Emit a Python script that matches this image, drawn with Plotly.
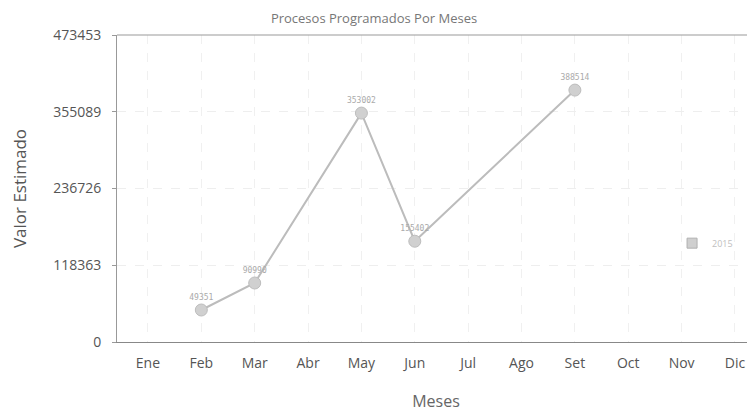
import plotly.graph_objects as go

meses = ["Ene", "Feb", "Mar", "Abr", "May", "Jun", "Jul", "Ago", "Set", "Oct", "Nov", "Dic"]
serie_meses = ["Feb", "Mar", "May", "Jun", "Set"]
serie_valores = [49351, 90990, 353002, 155402, 388514]
serie_nombre = "2015"
y_ticks = [0, 118363, 236726, 355089, 473453]
y_ticktext = ["0", "118363", "236726", "355089", "473453"]

W, H = 747, 404  # page body has an 8px margin

fig = go.Figure()
fig.add_trace(go.Scatter(
    x=serie_meses, y=serie_valores, name=serie_nombre,
    mode="lines+markers+text", showlegend=False,
    text=[str(v) for v in serie_valores],
    textposition="top center",
    textfont=dict(size=8, color="#aaaaaa", family="DejaVu Sans Mono"),
    line=dict(color="#bcbcbc", width=2),
    marker=dict(size=12, color="#d0d0d0", line=dict(color="#bdbdbd", width=1)),
))
# legend swatch
fig.add_trace(go.Scatter(
    x=[None], y=[None], name=serie_nombre, mode="markers", showlegend=True,
    marker=dict(symbol="square", size=10, color="#cfcfcf", line=dict(color="#b0b0b0", width=1)),
))

fig.update_layout(
    width=W, height=H,
    margin=dict(l=109, r=0, t=27, b=70),
    paper_bgcolor="white", plot_bgcolor="white",
    font=dict(family="Open Sans", color="#555555"),
    title=dict(text="Procesos Programados Por Meses", x=0.49, xanchor="center",
               yref="container", y=1 - 10 / H, yanchor="middle",
               font=dict(size=13, color="#777777")),
    showlegend=True,
    legend=dict(x=0.87, y=0.322, xanchor="left", yanchor="middle", bgcolor="rgba(0,0,0,0)",
                font=dict(size=9, color="#c0c0c0"), itemwidth=30),
    xaxis=dict(
        type="category", categoryorder="array", categoryarray=meses,
        range=[-0.58, 11.375],
        title=dict(text="Meses", font=dict(size=16, color="#666666"), standoff=28),
        tickfont=dict(size=14, color="#555555"),
        ticklabelstandoff=8,
        showgrid=True, gridcolor="#f0f0f0", griddash="dash",
        showline=True, linecolor="#888888", linewidth=1,
        ticks="", zeroline=False, automargin=False,
    ),
    yaxis=dict(
        range=[0, 473453],
        tickvals=y_ticks, ticktext=y_ticktext,
        title=dict(text="Valor Estimado", font=dict(size=17, color="#555555"), standoff=22),
        tickfont=dict(size=14, color="#555555"),
        showgrid=True, gridcolor="#eeeeee", griddash="dash",
        showline=True, linecolor="#999999", linewidth=1,
        ticks="outside", ticklen=4, tickcolor="#999999",
        ticklabelstandoff=8,
        zeroline=False, mirror=False, automargin=False,
    ),
)
fig.add_shape(type="line", xref="paper", yref="paper", x0=0, x1=1, y0=1, y1=1,
              line=dict(color="#999999", width=1))

fig.write_html("out.html")
